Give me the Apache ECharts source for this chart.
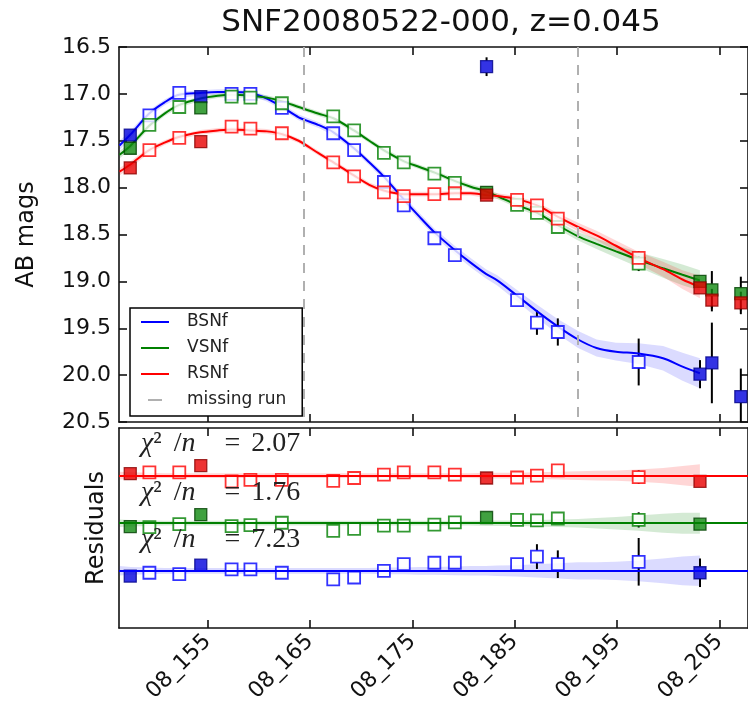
<!DOCTYPE html>
<html>
<head>
<meta charset="utf-8">
<script src="https://cdn.jsdelivr.net/npm/echarts@6/dist/echarts.min.js"></script>
<style>
  html, body { margin: 0; padding: 0; background: #fff; }
  #chart { width: 748px; height: 717px; }
</style>
</head>
<body>
<div id="chart"></div>
<script>
// ---- observation epochs (days) and photometry ----
const obsDays = [147.45, 149.32, 152.24, 154.34, 157.35, 159.19, 162.26, 167.28, 169.32, 172.23,
                 174.17, 177.16, 179.16, 182.26, 185.24, 187.18, 189.22, 197.12, 203.11];
// 1 = photometric reference run (filled marker), 0 = regular run (open marker)
const filledRun = [1, 0, 0, 1, 0, 0, 0, 0, 0, 0, 0, 0, 0, 1, 0, 0, 0, 0, 1];

const magB = [17.44, 17.23, 16.99, 17.03, 17.00, 17.00, 17.15, 17.42, 17.60, 17.94,
              18.19, 18.54, 18.72, 16.71, 19.20, 19.44, 19.54, 19.86, 19.99];
const errB = [0.02, 0.02, 0.02, 0.02, 0.02, 0.02, 0.02, 0.02, 0.02, 0.03,
              0.03, 0.04, 0.04, 0.10, 0.06, 0.13, 0.145, 0.25, 0.15];
const magG = [17.58, 17.33, 17.14, 17.15, 17.03, 17.04, 17.10, 17.24, 17.39, 17.63,
              17.73, 17.85, 17.95, 18.05, 18.185, 18.27, 18.42, 18.81, 19.00];
const errG = [0.02, 0.02, 0.02, 0.02, 0.02, 0.02, 0.02, 0.02, 0.02, 0.02,
              0.02, 0.02, 0.02, 0.02, 0.03, 0.03, 0.04, 0.08, 0.05];
const magR = [17.79, 17.60, 17.47, 17.51, 17.35, 17.37, 17.42, 17.73, 17.88, 18.05,
              18.09, 18.07, 18.06, 18.08, 18.13, 18.19, 18.33, 18.75, 19.07];
const errR = [0.02, 0.02, 0.02, 0.02, 0.02, 0.02, 0.02, 0.02, 0.02, 0.02,
              0.02, 0.02, 0.02, 0.02, 0.03, 0.03, 0.04, 0.07, 0.05];

// residuals (data - model, mag); null = outside the residual window
const resB = [-0.055, -0.02, -0.035, 0.06, 0.015, 0.015, -0.02, -0.09, -0.07, 0.0,
              0.07, 0.085, 0.085, null, 0.07, 0.15, 0.07, 0.095, -0.02];
const resG = [-0.035, -0.04, -0.01, 0.09, -0.03, -0.02, 0.005, -0.08, -0.06, -0.025,
              -0.025, -0.015, 0.01, 0.06, 0.035, 0.03, 0.05, 0.035, -0.01];
const resR = [0.02, 0.035, 0.035, 0.105, -0.06, -0.045, -0.045, -0.055, -0.025, 0.01,
              0.035, 0.035, 0.01, -0.025, -0.02, 0.0, 0.055, -0.015, -0.06];

// epochs excluded from the fit
const dropDays = [204.27, 207.1];
const dropB = [19.87, 20.23];
const dropErrB = [0.43, 0.30];
const dropG = [19.09, 19.13];
const dropErrG = [0.20, 0.18];
const dropR = [19.20, 19.23];
const dropErrR = [0.12, 0.12];

// ---- light-curve model ----
const curveDays = [146.4, 147.5, 149.3, 150.8, 152.2, 154.3, 156.0, 157.4, 159.2, 160.8,
                   162.3, 163.9, 165.8, 167.3, 169.3, 170.8, 172.2, 174.2, 175.7, 177.2,
                   179.2, 180.7, 182.2, 183.3, 185.1, 187.2, 189.2, 191.2, 193.0, 194.9,
                   197.1, 199.5, 201.4, 203.1];
const modelB = [17.55, 17.43, 17.21, 17.09, 17.01, 16.99, 16.98, 16.98, 16.99, 17.05,
                17.14, 17.25, 17.33, 17.41, 17.58, 17.73, 17.88, 18.13, 18.31, 18.48,
                18.67, 18.80, 18.92, 18.99, 19.14, 19.32, 19.48, 19.62, 19.71, 19.75,
                19.77, 19.82, 19.91, 19.98];
const modelG = [17.65, 17.55, 17.34, 17.21, 17.12, 17.05, 17.02, 17.01, 17.02, 17.04,
                17.08, 17.14, 17.21, 17.26, 17.39, 17.50, 17.60, 17.72, 17.78, 17.84,
                17.93, 17.99, 18.04, 18.09, 18.18, 18.27, 18.40, 18.52, 18.60, 18.68,
                18.77, 18.86, 18.93, 18.99];
const modelR = [17.83, 17.75, 17.60, 17.52, 17.46, 17.41, 17.39, 17.38, 17.39, 17.40,
                17.43, 17.50, 17.63, 17.73, 17.87, 17.97, 18.03, 18.07, 18.07, 18.07,
                18.06, 18.06, 18.08, 18.09, 18.12, 18.19, 18.31, 18.42, 18.51, 18.62,
                18.75, 18.87, 18.98, 19.06];
// model 1-sigma half widths
const bandB = [0.05, 0.04, 0.035, 0.03, 0.03, 0.03, 0.03, 0.03, 0.03, 0.03,
               0.03, 0.03, 0.03, 0.03, 0.03, 0.03, 0.035, 0.035, 0.04, 0.04,
               0.045, 0.05, 0.05, 0.055, 0.06, 0.07, 0.08, 0.09, 0.09, 0.095,
               0.11, 0.13, 0.15, 0.16];
const bandG = [0.04, 0.035, 0.03, 0.025, 0.025, 0.025, 0.025, 0.025, 0.025, 0.025,
               0.025, 0.025, 0.025, 0.025, 0.025, 0.025, 0.025, 0.025, 0.025, 0.025,
               0.025, 0.025, 0.03, 0.03, 0.03, 0.035, 0.04, 0.045, 0.055, 0.065,
               0.08, 0.10, 0.11, 0.11];
const bandR = [0.04, 0.035, 0.03, 0.025, 0.025, 0.025, 0.025, 0.025, 0.025, 0.025,
               0.025, 0.025, 0.025, 0.025, 0.025, 0.025, 0.025, 0.025, 0.025, 0.025,
               0.025, 0.025, 0.03, 0.03, 0.03, 0.035, 0.04, 0.045, 0.05, 0.055,
               0.065, 0.08, 0.10, 0.12];

const missingRunDays = [164.4, 191.2];
const chi2n = [2.07, 1.76, 7.23];
const tickDays = [155, 165, 175, 185, 195, 205];
const tickLabels = ['08_155', '08_165', '08_175', '08_185', '08_195', '08_205'];

// ---- drawing ----
const FONT = 'DejaVu Sans';
const AXIS_COLOR = '#111';
const X_MIN = 146.35, X_MAX = 207.8;
const RES_OFFSET = [0, 0.5, 1.0];   // B, V, R residual baselines
const MARK = 12;                    // marker size, px
const CURVE_SMOOTH = 0.3;

const bands = [
  { name: 'BSNf', mag: magB, err: errB, res: resB, model: modelB, band: bandB,
    dmag: dropB, derr: dropErrB,
    line: '#0000ff', fill: '#0000dd', edge: '#00008a', shade: 'rgba(40,40,255,0.17)' },
  { name: 'VSNf', mag: magG, err: errG, res: resG, model: modelG, band: bandG,
    dmag: dropG, derr: dropErrG,
    line: '#008000', fill: '#108a10', edge: '#004000', shade: 'rgba(0,128,0,0.17)' },
  { name: 'RSNf', mag: magR, err: errR, res: resR, model: modelR, band: bandR,
    dmag: dropR, derr: dropErrR,
    line: '#ff0000', fill: '#e80000', edge: '#8a0000', shade: 'rgba(255,0,0,0.16)' }
];

function marker(filled, b) {
  return filled
    ? { color: b.fill, borderColor: b.edge, borderWidth: 1.3 }
    : { color: '#ffffff', borderColor: b.line, borderWidth: 1.8 };
}

// vertical error bars; the part hidden by the marker is skipped
function errorBars(name, data, xi, yi) {
  return {
    type: 'custom', name: name, xAxisIndex: xi, yAxisIndex: yi, z: 2, silent: true, clip: true,
    encode: { x: 0, y: 1 },
    data: data,
    renderItem: function (params, api) {
      const x = api.value(0), y = api.value(1), e = api.value(2);
      const c = api.coord([x, y]);
      const a = api.coord([x, y - e]);
      const b = api.coord([x, y + e]);
      const top = Math.min(a[1], b[1]), bot = Math.max(a[1], b[1]);
      const h = MARK / 2;
      const kids = [];
      if (top < c[1] - h) kids.push({ type: 'line', shape: { x1: c[0], y1: top, x2: c[0], y2: c[1] - h },
                                       style: { stroke: '#000', lineWidth: 2 } });
      if (bot > c[1] + h) kids.push({ type: 'line', shape: { x1: c[0], y1: c[1] + h, x2: c[0], y2: bot },
                                       style: { stroke: '#000', lineWidth: 2 } });
      return { type: 'group', children: kids };
    }
  };
}

// shaded band between lo and hi, drawn as one polygon
function bandArea(name, data, xi, yi, color) {
  return {
    type: 'custom', name: name, xAxisIndex: xi, yAxisIndex: yi, z: 1, silent: true,
    encode: { x: 0, y: [1, 2] },
    data: data,
    renderItem: function (params, api) {
      if (params.dataIndexInside !== 0) return null;
      const n = params.dataInsideLength;
      const lo = [], hi = [];
      for (let j = 0; j < n; j++) {
        lo.push(api.coord([api.value(0, j), api.value(1, j)]));
        hi.push(api.coord([api.value(0, j), api.value(2, j)]));
      }
      return { type: 'polygon', shape: { points: lo.concat(hi.reverse()) },
               style: { fill: color, stroke: null } };
    }
  };
}

const series = [];
// model bands and curves, top panel
bands.forEach(function (b) {
  series.push(bandArea(b.name + ' sigma',
    curveDays.map(function (d, i) { return [d, b.model[i] - b.band[i], b.model[i] + b.band[i]]; }),
    0, 0, b.shade));
});
bands.forEach(function (b) {
  series.push({
    type: 'line', name: b.name, xAxisIndex: 0, yAxisIndex: 0, smooth: CURVE_SMOOTH, symbol: 'none',
    z: 3, silent: true, color: b.line, itemStyle: { color: b.line },
    lineStyle: { color: b.line, width: 2 },
    data: curveDays.map(function (d, i) { return [d, b.model[i]]; })
  });
});
// missing-run markers
series.push({
  type: 'line', name: 'missing run', xAxisIndex: 0, yAxisIndex: 0, data: [],
  color: '#b0b0b0', itemStyle: { color: '#b0b0b0' }, lineStyle: { color: '#b0b0b0' },
  markLine: {
    silent: true, symbol: 'none', label: { show: false },
    lineStyle: { color: '#b0b0b0', width: 2, type: [10, 8] },
    data: missingRunDays.map(function (d) { return { xAxis: d }; })
  }
});
// error bars and photometry points, top panel
bands.forEach(function (b) {
  const eb = obsDays.map(function (d, i) { return [d, b.mag[i], b.err[i]]; })
    .concat(dropDays.map(function (d, i) { return [d, b.dmag[i], b.derr[i]]; }));
  series.push(errorBars(b.name + ' err', eb, 0, 0));
});
bands.forEach(function (b) {
  const pts = obsDays.map(function (d, i) {
    return { value: [d, b.mag[i]], itemStyle: marker(filledRun[i], b) };
  }).concat(dropDays.map(function (d, i) {
    return { value: [d, b.dmag[i]], itemStyle: marker(1, b) };
  }));
  series.push({
    type: 'scatter', name: b.name + ' data', xAxisIndex: 0, yAxisIndex: 0, z: 4,
    symbol: 'rect', symbolSize: MARK, silent: true, data: pts
  });
});
// residual panel
bands.forEach(function (b, k) {
  const off = RES_OFFSET[k];
  series.push(bandArea(b.name + ' res sigma',
    curveDays.map(function (d, i) { return [d, off - b.band[i], off + b.band[i]]; }),
    1, 2, b.shade));
  series.push({
    type: 'line', name: b.name + ' res model', xAxisIndex: 1, yAxisIndex: 2, data: [],
    markLine: {
      silent: true, symbol: 'none', label: { show: false },
      lineStyle: { color: b.line, width: 2, type: 'solid' },
      data: [{ yAxis: off }]
    }
  });
});
bands.forEach(function (b, k) {
  const off = RES_OFFSET[k];
  const eb = [];
  obsDays.forEach(function (d, i) { if (b.res[i] !== null) eb.push([d, off + b.res[i], b.err[i]]); });
  series.push(errorBars(b.name + ' res err', eb, 1, 2));
});
bands.forEach(function (b, k) {
  const off = RES_OFFSET[k];
  const pts = [];
  obsDays.forEach(function (d, i) {
    if (b.res[i] !== null) pts.push({ value: [d, off + b.res[i]], itemStyle: marker(filledRun[i], b) });
  });
  series.push({
    type: 'scatter', name: b.name + ' residuals', xAxisIndex: 1, yAxisIndex: 2, z: 4,
    symbol: 'rect', symbolSize: MARK, silent: true, data: pts
  });
});

const axisLineStyle = { color: AXIS_COLOR, width: 1.6 };
function xAxisCfg(grid, pos, labels) {
  return {
    type: 'value', gridIndex: grid, position: pos, min: X_MIN, max: X_MAX,
    axisLine: { show: true, onZero: false, lineStyle: axisLineStyle },
    axisTick: { show: true, inside: true, length: 8, customValues: tickDays, lineStyle: axisLineStyle },
    axisLabel: labels ? {
      show: true, customValues: tickDays, rotate: 45, margin: 10,
      fontFamily: FONT, fontSize: 22, color: AXIS_COLOR,
      formatter: function (v) {
        let best = 0;
        tickDays.forEach(function (t, i) { if (Math.abs(t - v) < Math.abs(tickDays[best] - v)) best = i; });
        return tickLabels[best];
      }
    } : { show: false },
    splitLine: { show: false }
  };
}

const chart = echarts.init(document.getElementById('chart'), null, { renderer: 'canvas' });

const chiText = chi2n.map(function (c, k) {
  return {
    type: 'text', left: 141, top: [430, 479, 526][k], z: 10, silent: true,
    style: {
      text: '{i|χ}{r|²}{s|/}{i|n}{eq|=}{r|' + c.toFixed(2) + '}',
      rich: {
        i: { fontFamily: 'Liberation Serif', fontStyle: 'italic', fontSize: 28, fill: '#222' },
        r: { fontFamily: 'Liberation Serif', fontSize: 28, fill: '#222' },
        s: { fontFamily: 'Liberation Serif', fontSize: 28, fill: '#222', padding: [0, 0, 0, 12] },
        eq: { fontFamily: 'Liberation Serif', fontSize: 28, fill: '#222', padding: [0, 11, 0, 29] }
      }
    }
  };
});

chart.setOption({
  animation: false,
  backgroundColor: '#ffffff',
  title: {
    text: 'SNF20080522-000, z=0.045', left: 436, top: 2, textAlign: 'center',
    textStyle: { fontFamily: FONT, fontSize: 31, fontWeight: 'normal', color: '#111' }
  },
  legend: {
    data: [
      { name: 'BSNf', icon: 'rect' },
      { name: 'VSNf', icon: 'rect' },
      { name: 'RSNf', icon: 'rect' },
      { name: 'missing run', icon: 'path://M0,0H14V2H0Z' }
    ],
    orient: 'vertical', left: 130, top: 308,
    itemWidth: 28, itemHeight: 2, itemGap: 6,
    padding: [4, 16, 6, 11],
    borderColor: '#000', borderWidth: 1.5, backgroundColor: '#fff',
    selectedMode: false,
    textStyle: { fontFamily: FONT, fontSize: 17, color: '#222', lineHeight: 20, padding: [0, 0, 0, 13] }
  },
  grid: [
    { left: 119, top: 47, width: 632, height: 375 },
    { left: 119, top: 428, width: 632, height: 200 }
  ],
  xAxis: [
    xAxisCfg(0, 'bottom', false),
    xAxisCfg(1, 'bottom', true),
    xAxisCfg(0, 'top', false),
    xAxisCfg(1, 'top', false)
  ],
  yAxis: [
    {
      type: 'value', gridIndex: 0, position: 'left', inverse: true, min: 16.5, max: 20.5, interval: 0.5,
      axisLine: { show: true, lineStyle: axisLineStyle },
      axisTick: { show: true, inside: true, length: 8, lineStyle: axisLineStyle },
      axisLabel: { fontFamily: FONT, fontSize: 22, color: AXIS_COLOR, margin: 8,
                   showMinLabel: true, showMaxLabel: true,
                   formatter: function (v) { return v.toFixed(1); } },
      splitLine: { show: false },
      name: 'AB mags', nameLocation: 'middle', nameRotate: 90, nameGap: 80,
      nameTextStyle: { fontFamily: FONT, fontSize: 24, color: AXIS_COLOR }
    },
    {
      type: 'value', gridIndex: 0, position: 'right', inverse: true, min: 16.5, max: 20.5, interval: 0.5,
      axisLine: { show: true, lineStyle: axisLineStyle },
      axisTick: { show: true, inside: true, length: 8, lineStyle: axisLineStyle },
      axisLabel: { show: false }, splitLine: { show: false }
    },
    {
      type: 'value', gridIndex: 1, position: 'left', min: -0.6, max: 1.5,
      axisLine: { show: true, lineStyle: axisLineStyle },
      axisTick: { show: false }, axisLabel: { show: false }, splitLine: { show: false },
      name: 'Residuals', nameLocation: 'middle', nameRotate: 90, nameGap: 10,
      nameTextStyle: { fontFamily: FONT, fontSize: 24, color: AXIS_COLOR }
    },
    {
      type: 'value', gridIndex: 1, position: 'right', min: -0.6, max: 1.5,
      axisLine: { show: true, lineStyle: axisLineStyle },
      axisTick: { show: false }, axisLabel: { show: false }, splitLine: { show: false }
    }
  ],
  graphic: chiText,
  series: series
});
</script>
</body>
</html>
